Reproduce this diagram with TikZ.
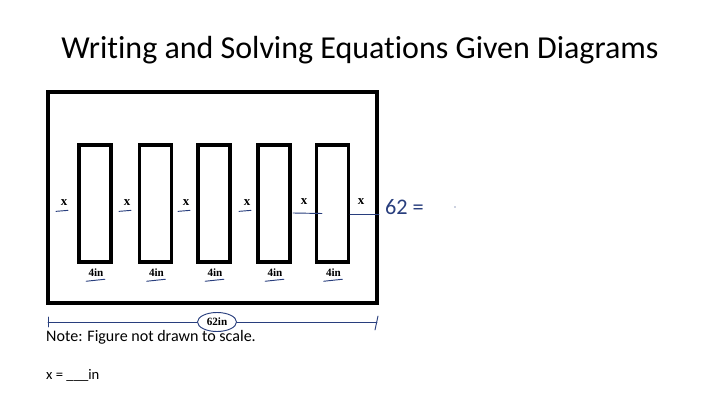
\documentclass[tikz,border=0pt]{standalone}
\usepackage{fontspec}
\setmainfont{Carlito}[Ligatures={NoCommon}]
\newfontfamily\labelfont{Liberation Serif}
\usetikzlibrary{shapes.geometric, calc}
\definecolor{penblue}{RGB}{40, 62, 125}

\begin{document}
\begin{tikzpicture}[x=0.03cm, y=-0.03cm,
  bar/.style={draw, line width=2.6pt, minimum width=0.96cm, minimum height=3.51cm, inner sep=0pt},
  dimlbl/.style={font=\labelfont\bfseries\fontsize{9.5}{11}\selectfont, inner sep=1pt},
  gaplbl/.style={font=\labelfont\bfseries\fontsize{11}{12}\selectfont, inner sep=1pt},
  pen/.style={draw=penblue, line width=0.8pt, line cap=round}
]
  \useasboundingbox (0,0) rectangle (720,405);
  \node[font=\fontsize{27.3}{31}\selectfont] (title) at (360,50) {Writing and Solving Equations Given Diagrams};
  \node[draw, line width=3.4pt, minimum width=9.87cm, minimum height=6.33cm, inner sep=0pt] (frame) at (212.5,197.5) {};
  % the five bars with their widths
  \foreach \i/\cx in {1/95, 2/155.5, 3/214, 4/274, 5/332.5} {
    \node[bar] (bar\i) at (\cx,203.5) {};
    \node[dimlbl] (w\i) at (\cx+1,273) {4in};
    \draw[pen] ($(w\i.south west)+(-1,3)$) .. controls ($(w\i.south)+(0,2)$) .. ($(w\i.south east)+(0,1)$);
  }
  % gaps
  \foreach \i/\gx in {1/64, 2/127, 3/186, 4/247} {
    \node[gaplbl] (g\i) at (\gx,203) {x};
    \draw[pen] ($(g\i.south)+(-8,4)$) -- ($(g\i.south)+(4,3)$);
  }
  \node[gaplbl] (g5) at (304,202) {x};
  \node[gaplbl] (g6) at (361,202) {x};
  \coordinate (u5a) at (293,213);
  \coordinate (u5b) at (322,213.5);
  \draw[pen] (u5a) -- (u5b);
  \coordinate (u6a) at (350,214);
  \draw[pen] (u6a) -- (frame.east |- u6a);
  \node[text=penblue, font=\fontsize{19}{21}\selectfont, anchor=west] (eq) at (381,207) {62 =};
  \fill[penblue] (455,207) circle (0.6pt) coordinate (dot);
  % overall length
  \coordinate (dl) at (48,322);
  \coordinate (dr) at (377,322);
  \node[dimlbl, ellipse, draw=penblue, line width=0.8pt, minimum width=1.17cm, minimum height=0.57cm, fill=white] (total) at (217,322) {62in};
  \draw[pen] (dl) -- (total.west);
  \draw[pen] (total.east) -- (dr);
  \draw[pen] ($(dl)+(0,-5)$) -- ($(dl)+(0,5)$);
  \draw[pen] ($(dr)+(1,-6)$) -- ($(dr)+(-2,8)$);
  \node[anchor=west, font=\fontsize{13.7}{16}\selectfont, inner sep=0pt] (note) at (46,337) {Note: Figure not drawn to scale.};
  \node[anchor=west, font=\fontsize{12.5}{14}\selectfont, inner sep=0pt] (answer) at (46,375) {x = \_\_\_in};
\end{tikzpicture}
\end{document}
